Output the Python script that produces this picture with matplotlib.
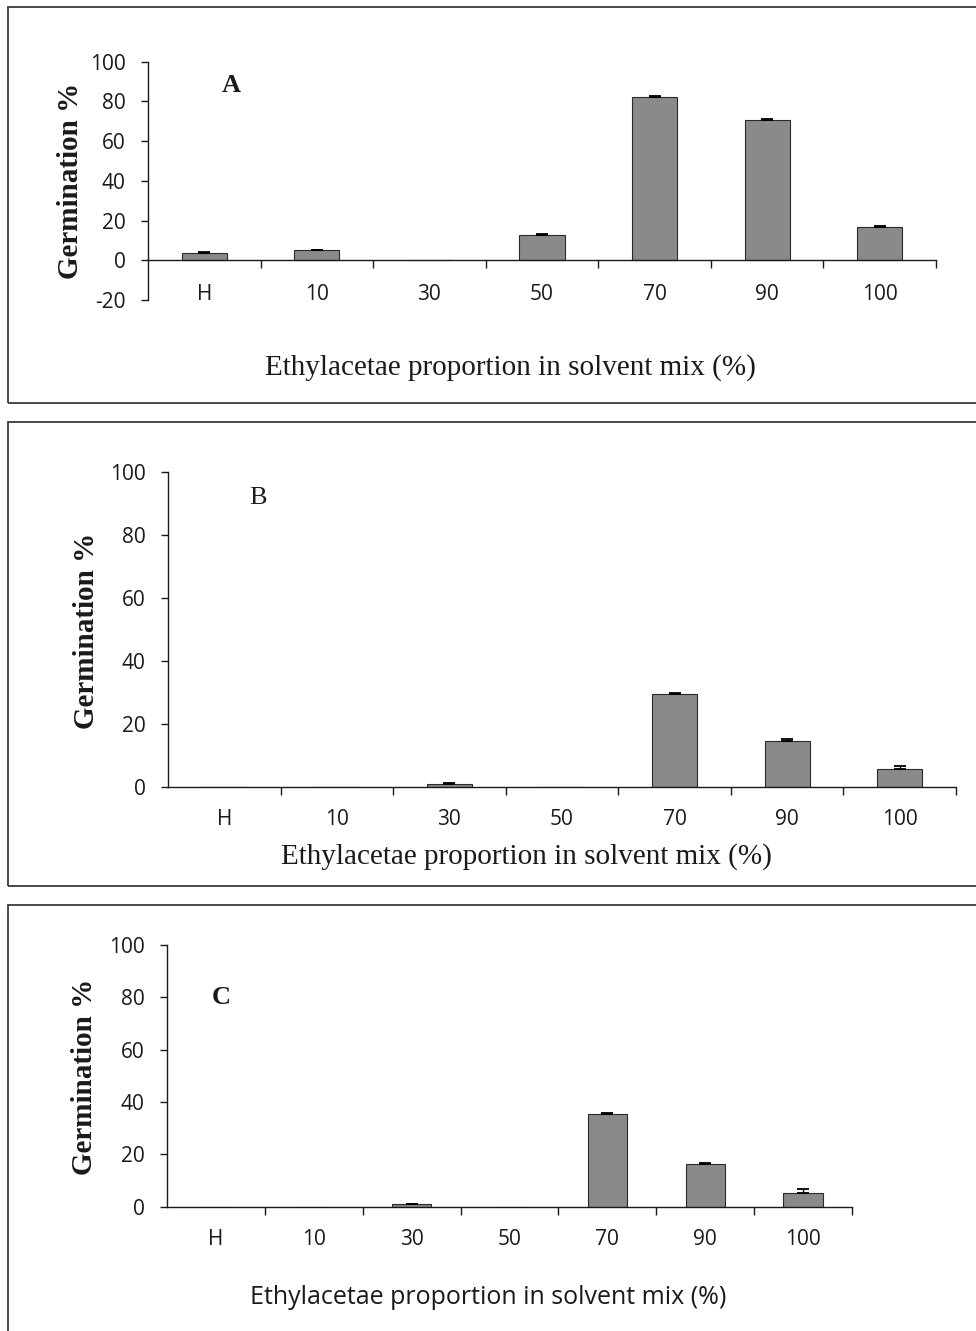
import matplotlib
matplotlib.use("Agg")
import matplotlib.pyplot as plt
from matplotlib.patches import Rectangle
from matplotlib.ticker import FixedLocator

# ---- data -------------------------------------------------------------
categories = ["H", "10", "30", "50", "70", "90", "100"]

germ_a = [3.9, 5.0, 0.0, 12.8, 82.2, 70.6, 17.0]
err_a = [0.4, 0.4, 0.0, 0.5, 0.5, 0.5, 0.5]

germ_b = [0.0, 0.0, 0.9, 0.0, 29.4, 14.5, 5.5]
err_b = [0.0, 0.0, 0.3, 0.0, 0.5, 0.5, 1.1]

germ_c = [0.0, 0.0, 0.9, 0.0, 35.3, 16.3, 5.4]
err_c = [0.0, 0.0, 0.3, 0.0, 0.5, 0.5, 1.3]

yticks_a = [-20, 0, 20, 40, 60, 80, 100]
yticks_bc = [0, 20, 40, 60, 80, 100]

xlabel = "Ethylacetae proportion in solvent mix (%)"
ylabel = "Germination %"

# ---- layout helpers ---------------------------------------------------
W, H = 976, 1331
fig = plt.figure(figsize=(W / 100, H / 100), dpi=100)

SERIF = "Liberation Serif"
SANS = "Open Sans"
BAR_FACE = "#8a8a8a"
BAR_EDGE = "#2a2a2a"
INK = "#1a1a1a"


def px_rect(x0, x1, ytop, ybot):
    return [x0 / W, 1 - ybot / H, (x1 - x0) / W, (ybot - ytop) / H]


def fig_xy(x, y):
    return x / W, 1 - y / H


def frame(x0, y0, x1, y1):
    fx0, fy1 = fig_xy(x0, y0)
    fx1, fy0 = fig_xy(x1, y1)
    fig.patches.append(Rectangle((fx0, fy0), fx1 - fx0, fy1 - fy0,
                                 transform=fig.transFigure, fill=False,
                                 edgecolor="#3a3a3a", linewidth=1.3,
                                 zorder=0))


def panel(rect, values, errors, yticks, ylim, label_pad):
    ax = fig.add_axes(rect)
    x = list(range(len(categories)))
    ax.bar(x, values, width=0.4, color=BAR_FACE, edgecolor=BAR_EDGE,
           linewidth=0.8, zorder=2)
    # error bars only where a spread was measured
    ex = [i for i in x if errors[i] > 0]
    ax.errorbar(ex, [values[i] for i in ex],
                yerr=[[0] * len(ex), [errors[i] for i in ex]], fmt="none",
                ecolor="black", elinewidth=1.0, capsize=4, capthick=1.3,
                zorder=3)
    ax.set_xlim(-0.5, len(categories) - 0.5)
    ax.set_ylim(*ylim)
    for side in ("top", "right"):
        ax.spines[side].set_visible(False)
    ax.spines["bottom"].set_position(("data", 0))
    for side in ("left", "bottom"):
        ax.spines[side].set_color(INK)
        ax.spines[side].set_linewidth(1.0)

    ax.set_yticks(yticks)
    ax.set_yticklabels([str(t) for t in yticks])
    ax.tick_params(axis="y", direction="out", length=5, width=1.0,
                   pad=11, labelsize=15, colors=INK)

    ax.set_xticks(x)
    ax.set_xticklabels(categories)
    ax.xaxis.set_minor_locator(FixedLocator([i + 0.5 for i in x]))
    ax.tick_params(axis="x", which="major", length=0, pad=label_pad,
                   labelsize=15, colors=INK)
    ax.tick_params(axis="x", which="minor", direction="out", length=6,
                   width=1.0, colors=INK)
    for lab in ax.get_xticklabels() + ax.get_yticklabels():
        lab.set_fontfamily(SANS)
    ax.patch.set_alpha(0)
    return ax


# ---- panel A ----------------------------------------------------------
frame(8, 7, 1000, 403)
panel(px_rect(148, 936, 61.7, 300), germ_a, err_a, yticks_a, (-20, 100), 17)
fig.text(*fig_xy(231, 86), "A", family=SERIF, fontweight="bold",
         fontsize=19, ha="center", va="center", color=INK)
fig.text(*fig_xy(70, 181), ylabel, family=SERIF, fontweight="bold",
         fontsize=21, rotation=90, ha="center", va="center", color=INK)
fig.text(*fig_xy(510, 368), xlabel, family=SERIF, fontsize=21,
         ha="center", va="center", color=INK)

# ---- panel B ----------------------------------------------------------
frame(8, 422, 1000, 886)
panel(px_rect(168, 956, 471.7, 786.7), germ_b, err_b, yticks_bc, (0, 100), 16)
fig.text(*fig_xy(258, 498), "B", family=SERIF, fontsize=19,
         ha="center", va="center", color=INK)
fig.text(*fig_xy(87, 631), ylabel, family=SERIF, fontweight="bold",
         fontsize=21, rotation=90, ha="center", va="center", color=INK)
fig.text(*fig_xy(526, 857), xlabel, family=SERIF, fontsize=21,
         ha="center", va="center", color=INK)

# ---- panel C ----------------------------------------------------------
frame(8, 905, 1000, 1400)
panel(px_rect(167, 852, 945, 1206.7), germ_c, err_c, yticks_bc, (0, 100), 16)
fig.text(*fig_xy(221, 997), "C", family=SERIF, fontweight="bold",
         fontsize=19, ha="center", va="center", color=INK)
fig.text(*fig_xy(84, 1077), ylabel, family=SERIF, fontweight="bold",
         fontsize=21, rotation=90, ha="center", va="center", color=INK)
fig.text(*fig_xy(488, 1298), xlabel, family=SANS, fontsize=18,
         ha="center", va="center", color=INK)

fig.savefig("out.png", dpi=100, facecolor="white")
